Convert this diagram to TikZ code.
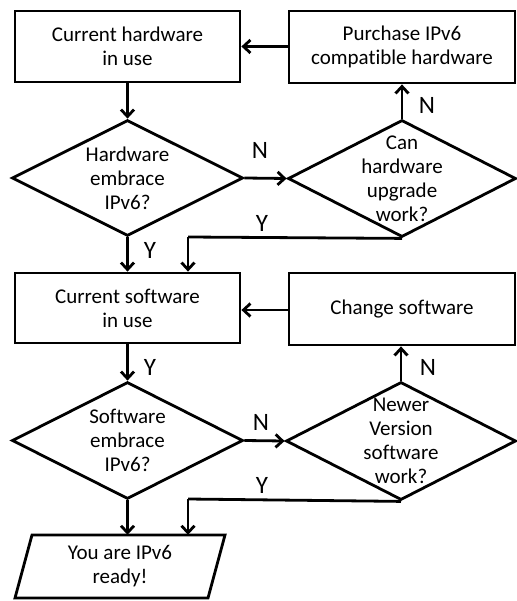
\documentclass[tikz,border=0pt]{standalone}
\usepackage{fontspec}
\setmainfont[Ligatures=NoCommon]{Carlito}
\usetikzlibrary{shapes.geometric,arrows.meta}
\begin{document}
\begin{tikzpicture}[x=1pt,y=-1pt,
  every node/.style={font=\fontsize{21}{24}\selectfont, align=center, inner sep=0pt},
  box/.style={draw, line width=2.8pt, rectangle},
  dia/.style={draw, line width=2.8pt, diamond, inner sep=0pt},
  lab/.style={font=\fontsize{25}{28}\selectfont},
  conn/.style={line width=2.8pt, -{Straight Barb[length=7pt,width=13pt]}},
  plain/.style={line width=2.8pt}]
\useasboundingbox (0,0) rectangle (516,601);
% boxes
\node[box, minimum width=225pt, minimum height=71pt] (b1) at (127.5,46.5) {Current hardware\\in use};
\node[box, minimum width=226pt, minimum height=72pt] (b2) at (402,47) {Purchase IPv6\\compatible hardware};
\node[box, minimum width=225pt, minimum height=70pt] (b3) at (127.5,308) {Current software\\in use};
\node[box, minimum width=226pt, minimum height=72pt] (b4) at (402,309) {Change software};
% diamonds
\node[dia, minimum width=231pt, minimum height=116pt] (d1) at (127.5,178) {};
\node at (d1.center) (t1) {Hardware\\embrace\\IPv6?};
\node[dia, minimum width=228pt, minimum height=117pt] (d2) at (402,178.5) {};
\node at (d2.center) (t2) {Can\\hardware\\upgrade\\work?};
\node[dia, minimum width=231pt, minimum height=117pt] (d3) at (127.5,440.5) {};
\node at (d3.center) (t3) {Software\\embrace\\IPv6?};
\node[dia, minimum width=230pt, minimum height=118pt] (d4) at (401,441) {};
\node at (d4.center) (t4) {Newer\\Version\\software\\work?};
% parallelogram
\draw[line width=2.8pt, line join=miter] (32,535) -- (225,535) -- (208,598) -- (15,598) -- cycle;
\node[minimum width=193pt, minimum height=63pt] (p) at (120,566.5) {You are IPv6\\ready!};
% join coordinates
\coordinate (c1) at (188,237);
\coordinate (c2) at (188,499);
% connectors
\draw[conn] (b1.south) -- (d1.north);
\draw[conn] (d1.east) -- (d2.west);
\draw[conn] (d2.north) -- (d2.north |- b2.south);
\draw[conn] (b2.west |- b1.east) -- (b1.east);
\draw[conn] (d1.south) -- (d1.south |- b3.north);
\draw[plain] (d2.south) -- (c1);
\draw[conn] (c1) -- (c1 |- b3.north);
\draw[conn] (b3.south) -- (d3.north);
\draw[conn] (d3.east) -- (d4.west);
\draw[conn] (d4.north) -- (d4.north |- b4.south);
\draw[conn] (b4.west |- 0,310) -- (b3.east |- 0,310);
\draw[conn] (d3.south) -- (d3.south |- p.north);
\draw[plain] (d4.south) -- (c2);
\draw[conn] (c2) -- (c2 |- p.north);
% labels
\node[lab] (l1) at (260,150) {N};
\node[lab] (l2) at (262,223) {Y};
\node[lab] (l3) at (427,105) {N};
\node[lab] (l4) at (150,250) {Y};
\node[lab] (l5) at (150,367) {Y};
\node[lab] (l6) at (261,422) {N};
\node[lab] (l7) at (262,485) {Y};
\node[lab] (l8) at (428,367) {N};
\end{tikzpicture}
\end{document}
